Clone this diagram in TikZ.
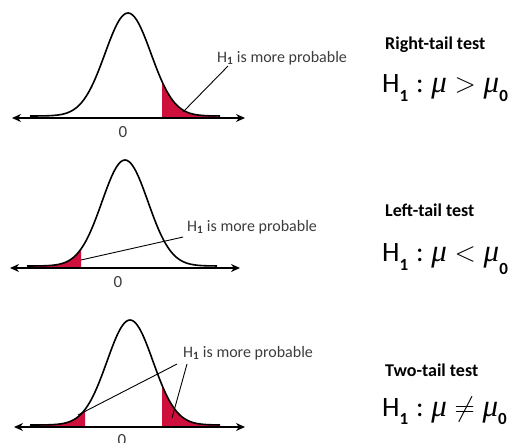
\documentclass[tikz,border=0pt]{standalone}
\usepackage{fix-cm}
\usepackage{fontspec}
\setmainfont{Carlito}
\newfontfamily\greekfont{Liberation Serif}
\usetikzlibrary{arrows.meta}
\definecolor{tailred}{RGB}{208,16,60}
\definecolor{labelgray}{RGB}{60,60,60}

\newcommand{\Hone}{H\raisebox{-0.3em}{\fontsize{17}{17}\selectfont\bfseries 1}}
\newcommand{\muit}{{\greekfont\itshape\fontsize{31}{31}\selectfont μ}}
\newcommand{\subzero}[1]{\raisebox{#1}{\fontsize{17}{17}\selectfont\bfseries 0}}

\tikzset{
  bellcurve/.style={line width=1.6pt},
  numline/.style={line width=1.4pt, {Stealth[length=9pt,width=8pt]}-{Stealth[length=9pt,width=8pt]}},
  tailfill/.style={fill=tailred},
  pointer/.style={line width=0.9pt},
  probtext/.style={text=labelgray, font=\fontsize{16}{18}\selectfont, anchor=west, inner sep=1pt},
  testname/.style={font=\fontsize{18}{20}\selectfont\bfseries, anchor=west, inner sep=0pt},
  hypo/.style={font=\fontsize{28}{30}\selectfont, anchor=base west, inner sep=0pt},
  zerolabel/.style={text=labelgray, font=\fontsize{17}{18}\selectfont}
}

\begin{document}
\begin{tikzpicture}[x=1pt, y=-1pt]
      % \draw[help lines, gray!50, very thin] (0,0) grid[step=50] (519,443);
      \useasboundingbox (0,0) rectangle (519,443);

      % right tail
      \fill[tailfill] (162,117) -- plot[domain=162:217, samples=30] (\x, {116-103*exp(-0.5*((\x-128)/23)^2)}) -- (217,117) -- cycle;
      \draw[bellcurve] plot[domain=30:220, samples=90, smooth] (\x, {116-103*exp(-0.5*((\x-128)/23)^2)});
      \draw[numline] (12,118) -- (245,118);
      \node[zerolabel] (zero1) at (123,132) {0};
      \node[probtext] (prob1) at (216,58) {H\textsubscript{\textbf{1}} is more probable};
      \coordinate (tip1) at (183,112);
      \draw[pointer] ([xshift=12pt]prob1.south west) -- (tip1);
      \node[testname] (test1) at (385,45) {Right-tail test};
      \node[hypo] (hyp1) at (382,93) {\Hone\;:\;\muit\;$>$\;\muit\subzero{-0.3em}};

      % left tail
      \fill[tailfill] (27,267) -- plot[domain=27:81, samples=30] (\x, {266-106*exp(-0.5*((\x-125)/23)^2)}) -- (81,267) -- cycle;
      \draw[bellcurve] plot[domain=27:217, samples=90, smooth] (\x, {266-106*exp(-0.5*((\x-125)/23)^2)});
      \draw[numline] (10,268) -- (240,268);
      \node[zerolabel] (zero2) at (118,282) {0};
      \node[probtext] (prob2) at (186,227) {H\textsubscript{\textbf{1}} is more probable};
      \coordinate (tip2) at (81,260);
      \draw[pointer] ([xshift=-3pt,yshift=-2pt]prob2.south west) -- (tip2);
      \node[testname] (test2) at (385,210) {Left-tail test};
      \node[hypo] (hyp2) at (382,262) {\Hone\;:\;\muit\;$<$\;\muit\subzero{-0.45em}};

      % two tails
      \fill[tailfill] (30,426) -- plot[domain=30:85, samples=30] (\x, {425-105*exp(-0.5*((\x-130)/23)^2)}) -- (85,426) -- cycle;
      \fill[tailfill] (162,426) -- plot[domain=162:220, samples=30] (\x, {425-105*exp(-0.5*((\x-130)/23)^2)}) -- (220,426) -- cycle;
      \draw[bellcurve] plot[domain=30:220, samples=90, smooth] (\x, {425-105*exp(-0.5*((\x-130)/23)^2)});
      \draw[numline] (14,427) -- (245,427);
      \node[zerolabel] (zero3) at (122,440) {0};
      \node[probtext] (prob3) at (182,353) {H\textsubscript{\textbf{1}} is more probable};
      \coordinate (tip3a) at (78,415);
      \coordinate (tip3b) at (172,418);
      \draw[pointer] ([xshift=-5pt,yshift=-3pt]prob3.south west) -- (tip3a);
      \draw[pointer] ([xshift=5pt,yshift=-3pt]prob3.south west) -- (tip3b);
      \node[testname] (test3) at (385,370) {Two-tail test};
      \node[hypo] (hyp3) at (382,416) {\Hone\;:\;\muit\;$\neq$\;\muit\subzero{-0.3em}};
\end{tikzpicture}
\end{document}
